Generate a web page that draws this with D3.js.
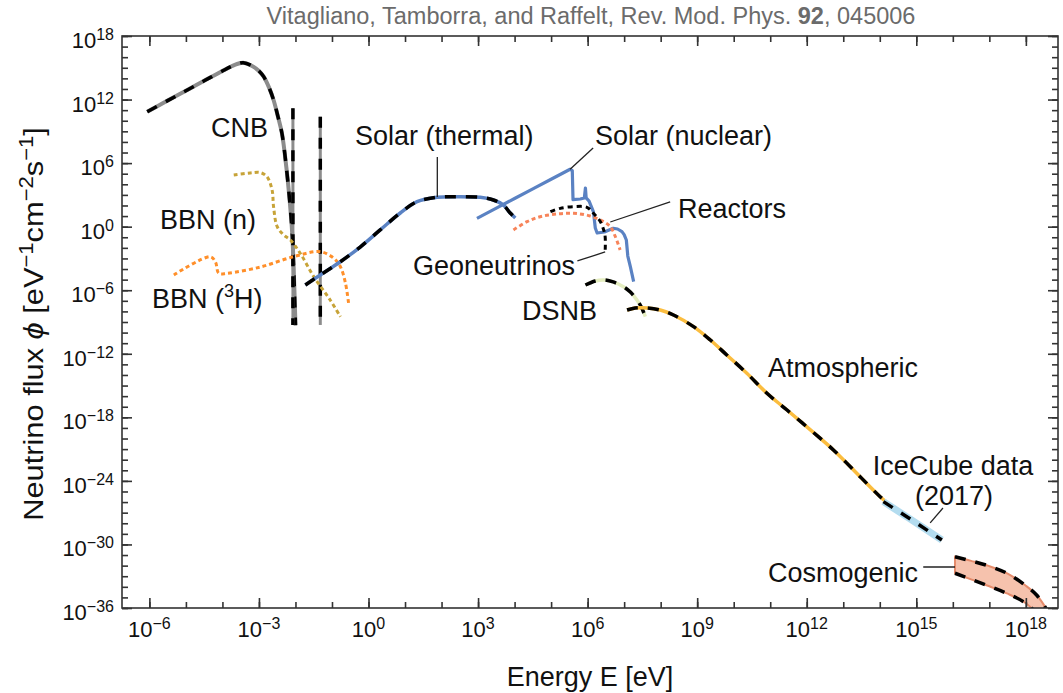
<!DOCTYPE html>
<html>
<head>
<meta charset="utf-8">
<script src="https://cdn.jsdelivr.net/npm/d3@7/dist/d3.min.js"></script>
<style>
  html, body { margin: 0; padding: 0; background: #fff; }
  svg { display: block; }
  text { font-family: "Liberation Sans", Arial, Helvetica, sans-serif; fill: #111; }
</style>
</head>
<body>
<svg id="chart" width="1063" height="693"></svg>
<script>
// All values are [log10(E / eV), log10(phi / (eV^-1 cm^-2 s^-1))]

// Cosmic neutrino background, relativistic spectrum
const cnb = [[-6.06,10.85],[-5.5,11.9],[-5.0,12.83],[-4.5,13.77],[-4.0,14.7],[-3.75,15.14],
  [-3.58,15.38],[-3.43,15.48],[-3.2,15.2],[-3.0,14.7],[-2.87,14.16],[-2.72,13.1],[-2.6,11.96],
  [-2.48,10.4],[-2.37,8.8],[-2.25,5.6],[-2.16,2.5],[-2.09,-0.6],[-2.05,-3.8],[-2.0,-9.3]];
// Non-relativistic CNB mass states (energy, top, bottom of the line)
const cnbMassE = [-2.07, -1.32];
const cnbMassTop = [11.17, 10.38];
const cnbMassBottom = -9.28;

// Big-bang nucleosynthesis antineutrinos
const bbnNeutron = [[-3.69,4.88],[-3.24,5.07],[-2.96,5.1],[-2.78,4.72],[-2.64,3.46],[-2.6,1.89],
  [-2.5,0.0],[-2.32,-0.79],[-2.14,-1.26],[-1.87,-2.51],[-1.5,-4.72],[-1.05,-6.92],[-0.77,-8.5]];
const bbnTritium = [[-5.33,-4.56],[-4.33,-2.84],[-4.19,-3.34],[-4.1,-4.4],[-3.87,-4.4],[-2.96,-3.81],
  [-2.05,-2.83],[-1.32,-2.36],[-0.95,-2.99],[-0.77,-3.78],[-0.63,-5.35],[-0.54,-7.39]];

// Sun
const solarThermal = [[-1.73,-5.51],[-1.32,-4.56],[-0.77,-3.31],[-0.22,-1.9],[0.32,-0.31],[0.87,1.29],
  [1.33,2.36],[1.88,2.77],[2.42,2.83],[3.06,2.77],[3.42,2.52],[3.69,2.05],[3.88,1.29],[4.02,0.82]];
const solarNuclear = [[2.97,0.79],[3.5,1.75],[4.0,2.66],[4.5,3.57],[5.0,4.48],[5.3,5.02],[5.52,5.42],
  [5.58,5.3],[5.6,2.55],[5.8,2.61],[5.91,2.71],[5.94,3.65],[5.96,2.71],[6.04,2.42],[6.16,1.39],
  [6.21,-0.13],[6.26,-0.6],[6.46,-0.5],[6.7,-0.15],[6.82,-0.22],[6.94,-0.47],[7.0,-0.75],[7.06,-1.26],
  [7.1,-2.77],[7.17,-3.78],[7.26,-5.19]];

// Earth and reactors
const geoneutrinos = [[4.98,1.41],[5.25,1.73],[5.62,1.89],[5.98,1.83],[6.16,1.26],[6.35,0.47],
  [6.44,-0.31],[6.48,-0.95],[6.48,-2.36]];
const reactors = [[3.97,-0.31],[4.34,0.47],[4.7,0.94],[5.16,1.2],[5.62,1.26],[6.07,1.01],[6.44,0.47],
  [6.62,0.0],[6.76,-0.95],[6.89,-2.2]];

// Diffuse supernova background
const dsnb = [[5.94,-5.51],[6.21,-5.13],[6.44,-5.03],[6.7,-5.22],[6.98,-5.67],[7.17,-6.17],
  [7.35,-6.92],[7.47,-7.58],[7.58,-8.5]];

// Atmospheric and high-energy neutrinos
const atmospheric = [[7.08,-7.87],[7.3,-7.68],[7.49,-7.65],[7.99,-7.87],[8.35,-8.34],[8.9,-9.44],
  [9.36,-10.7],[9.81,-12.11],[10.36,-13.84],[10.91,-15.73],[11.46,-17.31],[12.1,-19.19],
  [12.73,-21.08],[13.46,-23.6],[14.01,-25.49],[14.33,-26.43]];
const iceCube = [[14.1,-25.96],[14.9,-27.75],[15.7,-29.58]];
const cosmoE = [16.06,16.5,17.0,17.5,18.0,18.3,18.6];
const cosmoHigh = [-31.16,-31.55,-32.05,-32.75,-33.9,-34.8,-36.3];
const cosmoLow = [-32.72,-33.3,-33.95,-34.65,-35.55,-36.5,-37.5];

// Axis ticks (exponents)
const xMajorExp = [-6,-3,0,3,6,9,12,15,18];
const xMinorExp = d3.range(-6, 19);
const yMajorExp = [-36,-30,-24,-18,-12,-6,0,6,12,18];
const yMinorExp = d3.range(-36, 19);

// Leader lines joining labels to curves
const leaders = [
  [[1.884,6.58],[1.884,2.8]],
  [[5.52,5.42],[6.15,7.43]],
  [[6.62,0.44],[8.26,2.33]],
  [[6.48,-2.39],[5.72,-3.24]],
  [[15.38,-27.97],[15.73,-26.56]],
  [[15.19,-32.13],[16.06,-32.13]]
];

// ---------------------------------------------------------------------------
const svg = d3.select("#chart");
const plot = {left: 122, right: 1058, top: 36, bottom: 608};
const pw = 10 ** -6.75, pe = 10 ** 18.88;

const x = d3.scaleLog().domain([pw, pe]).range([plot.left, plot.right]);
const y = d3.scaleLog().domain([1e-36, 1e18]).range([plot.bottom, plot.top]);
const px = d => x(10 ** d[0]);
const py = d => y(10 ** d[1]);

const smooth = d3.line().x(px).y(py).curve(d3.curveCatmullRom.alpha(0.5));
const straight = d3.line().x(px).y(py);

svg.append("defs").append("clipPath").attr("id", "plotClip")
  .append("rect").attr("x", plot.left).attr("y", plot.top)
  .attr("width", plot.right - plot.left).attr("height", plot.bottom - plot.top);

const g = svg.append("g").attr("clip-path", "url(#plotClip)");

const BLACK_DASH = "11 10";
function curve(pts, opt) {
  const gen = opt.linear ? straight : smooth;
  if (opt.color) {
    g.append("path").datum(pts).attr("d", gen)
      .attr("fill", "none").attr("stroke", opt.color)
      .attr("stroke-width", opt.width || 3.5)
      .attr("stroke-dasharray", opt.dash || null)
      .attr("stroke-linejoin", "round");
  }
  if (opt.overlay) {
    g.append("path").datum(pts).attr("d", gen)
      .attr("fill", "none").attr("stroke", "#000")
      .attr("stroke-width", opt.overlayWidth || 3.5)
      .attr("stroke-dasharray", opt.overlayDash || BLACK_DASH);
  }
}

// Cosmogenic band
const cosmoHi = cosmoE.map((e, i) => [e, cosmoHigh[i]]);
const cosmoLo = cosmoE.map((e, i) => [e, cosmoLow[i]]);
g.append("path").datum(cosmoE.map((e, i) => [e, cosmoHigh[i], cosmoLow[i]]))
  .attr("d", d3.area().x(px).y1(py).y0(d => y(10 ** d[2])).curve(d3.curveCatmullRom.alpha(0.5)))
  .attr("fill", "#f6c2ad").attr("stroke", "#e58c6c").attr("stroke-width", 2);
curve(cosmoHi, {overlay: true});
curve(cosmoLo, {overlay: true});

// Relic neutrinos
curve(cnb, {color: "#8c8c8c", width: 4, overlay: true});
cnbMassE.forEach((e, i) => {
  curve([[e, cnbMassTop[i]], [e, cnbMassBottom]], {color: "#8c8c8c", width: 3, overlay: true, linear: true});
});

// BBN
curve(bbnNeutron, {color: "#c7a338", width: 3, dash: "4 3"});
curve(bbnTritium, {color: "#ff8f2a", width: 3, dash: "4 3"});

// Solar
curve(solarNuclear, {color: "#5a82c3", width: 3.2, linear: true});
curve(reactors, {color: "#f7845a", width: 3, dash: "4 3"});
curve(solarThermal, {color: "#5a82c3", width: 3.5, overlay: true});
curve(geoneutrinos, {overlay: true, overlayWidth: 3, overlayDash: "5 4"});

// DSNB, atmospheric, IceCube
curve(dsnb, {color: "#e4edbf", width: 3.5, overlay: true});
curve(atmospheric, {color: "#fbbd3f", width: 3.5, overlay: true});
curve(iceCube, {color: "#b3dcef", width: 7, overlay: true, linear: true});

// Leaders
leaders.forEach(l => {
  svg.append("path").datum(l).attr("d", straight)
    .attr("fill", "none").attr("stroke", "#222").attr("stroke-width", 1.3);
});

// Axes ------------------------------------------------------------------------
function styleAxis(sel) {
  sel.select(".domain").remove();
  sel.selectAll(".tick line").attr("stroke", "#333").attr("stroke-width", 1.6);
}
const xMin = xMinorExp.map(e => 10 ** e), xMaj = xMajorExp.map(e => 10 ** e);
const yMin = yMinorExp.map(e => 10 ** e), yMaj = yMajorExp.map(e => 10 ** e);

[[d3.axisBottom, plot.bottom], [d3.axisTop, plot.top]].forEach(([ax, pos]) => {
  svg.append("g").attr("transform", `translate(0,${pos})`)
    .call(ax(x).tickValues(xMin).tickSize(-6).tickFormat("")).call(styleAxis);
  svg.append("g").attr("transform", `translate(0,${pos})`)
    .call(ax(x).tickValues(xMaj).tickSize(-10).tickFormat("")).call(styleAxis);
});
[[d3.axisLeft, plot.left], [d3.axisRight, plot.right]].forEach(([ax, pos]) => {
  svg.append("g").attr("transform", `translate(${pos},0)`)
    .call(ax(y).tickValues(yMin).tickSize(-6).tickFormat("")).call(styleAxis);
  svg.append("g").attr("transform", `translate(${pos},0)`)
    .call(ax(y).tickValues(yMaj).tickSize(-10).tickFormat("")).call(styleAxis);
});

svg.append("rect").attr("x", plot.left).attr("y", plot.top)
  .attr("width", plot.right - plot.left).attr("height", plot.bottom - plot.top)
  .attr("fill", "none").attr("stroke", "#333").attr("stroke-width", 1.6);

// Power-of-ten label helper
function powerLabel(sel, exp, baseSize, supSize, rise) {
  sel.append("tspan").text("10").attr("font-size", baseSize);
  sel.append("tspan").text(exp < 0 ? "\u2212" + (-exp) : String(exp))
    .attr("font-size", supSize).attr("dy", -rise);
}

xMajorExp.forEach(e => {
  const t = svg.append("text").attr("x", x(10 ** e)).attr("y", 637)
    .attr("text-anchor", "middle");
  powerLabel(t, e, 22, 16, 8);
});
yMajorExp.forEach(e => {
  const t = svg.append("text").attr("x", 114).attr("y", y(10 ** e) + 12)
    .attr("text-anchor", "end");
  powerLabel(t, e, 22, 16, 8);
});

// Axis titles
svg.append("text").attr("x", 590).attr("y", 686).attr("text-anchor", "middle")
  .attr("font-size", 27).text("Energy E [eV]");

const yt = svg.append("text").attr("transform", "translate(43,324) rotate(-90) scale(1.1,1)")
  .attr("text-anchor", "middle").attr("font-size", 28);
yt.append("tspan").text("Neutrino flux ");
yt.append("tspan").text("\u03D5").attr("font-style", "italic");
yt.append("tspan").text(" [eV");
yt.append("tspan").text("\u22121").attr("font-size", 20).attr("dy", -10);
yt.append("tspan").text("cm").attr("dy", 10);
yt.append("tspan").text("\u22122").attr("font-size", 20).attr("dy", -10);
yt.append("tspan").text("s").attr("dy", 10);
yt.append("tspan").text("\u22121").attr("font-size", 20).attr("dy", -10);
yt.append("tspan").text("]").attr("dy", 10);

// Title
const title = svg.append("text").attr("x", 591).attr("y", 24).attr("text-anchor", "middle")
  .attr("font-size", 23.5).style("fill", "#6b6b6b");
title.append("tspan").text("Vitagliano, Tamborra, and Raffelt, Rev. Mod. Phys. ");
title.append("tspan").text("92").attr("font-weight", "bold");
title.append("tspan").text(", 045006");

// Curve labels
const labels = [
  {t: "CNB", x: 211, y: 137},
  {t: "Solar (thermal)", x: 355, y: 145},
  {t: "Solar (nuclear)", x: 595, y: 145},
  {t: "Reactors", x: 678, y: 218},
  {t: "BBN (n)", x: 160, y: 229},
  {t: "Geoneutrinos", x: 413, y: 275},
  {t: "DSNB", x: 522, y: 320},
  {t: "Atmospheric", x: 768, y: 377},
  {t: "IceCube data", x: 953, y: 475, a: "middle"},
  {t: "(2017)", x: 954, y: 505, a: "middle"},
  {t: "Cosmogenic", x: 918, y: 582, a: "end"}
];
labels.forEach(l => {
  svg.append("text").attr("x", l.x).attr("y", l.y).attr("text-anchor", l.a || "start")
    .attr("font-size", 27).text(l.t);
});
const h3 = svg.append("text").attr("x", 152).attr("y", 308).attr("font-size", 27);
h3.append("tspan").text("BBN (");
h3.append("tspan").text("3").attr("font-size", 18).attr("dy", -11);
h3.append("tspan").text("H)").attr("dy", 11);
</script>
</body>
</html>
